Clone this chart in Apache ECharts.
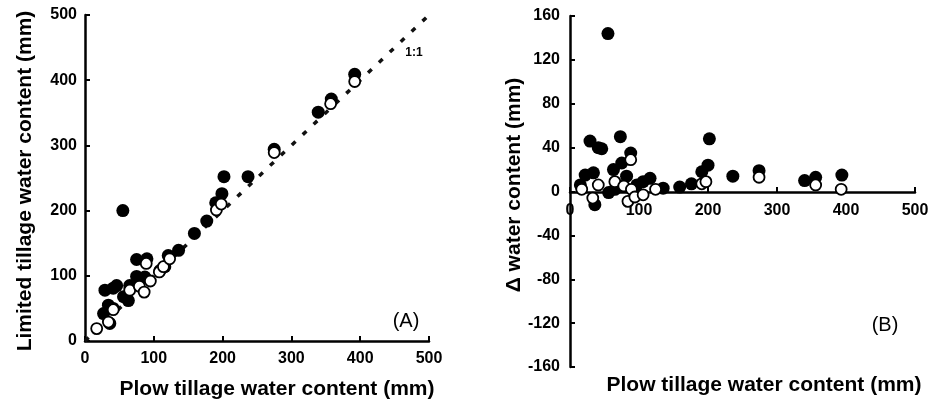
<!DOCTYPE html>
<html><head><meta charset="utf-8">
<script src="https://cdn.jsdelivr.net/npm/echarts@6/dist/echarts.min.js"></script>
<style>html,body{margin:0;padding:0;background:#fff}#c{width:936px;height:403px}</style>
</head><body><div id="c"></div>
<script>
// Panel A: plow tillage (x) vs limited tillage (y)
const aFilled = [[55,200],[202,252],[237,252],[199,226],[190,212],[177,184],[159,165],[136,139],[121,131],[275,294],[339,351],[358,371],[392,409],[75,125],[90,126],[29,78],[41,81],[46,85],[75,99],[65,85],[56,68],[63,62],[41,50],[34,55],[27,42],[36,27],[87,98],[109,108],[116,114]];
const aOpen = [[17,19],[34,29],[41,48],[65,78],[79,84],[86,75],[89,119],[95,92],[108,106],[114,114],[123,126],[191,201],[198,210],[275,289],[357,364],[392,398]];
// Panel B: plow tillage (x) vs delta water content (y)
const bFilled = [[55,144],[29,46],[41,40],[46,39],[73,50],[88,35],[75,26],[63,20],[22,15],[34,17],[15,6],[202,48],[200,24],[191,18],[236,14],[274,19],[340,10],[356,13],[394,15],[159,4],[176,7],[135,3],[116,12],[106,9],[36,-12],[56,-1],[82,14],[65,2],[97,6]];
const bOpen = [[17,2],[33,-6],[41,6],[65,9],[78,5],[88,29],[84,-9],[89,2],[94,-5],[106,-3],[124,2],[191,7],[197,9],[274,13],[356,6],[393,2]];
const oneToOne = [[0,0],[500,500]];
const xRange = [0,500,100];   // min, max, interval for both x axes
const yRangeA = [0,500,100];
const yRangeB = [-160,160,40];

const chart = echarts.init(document.getElementById('c'), null, {renderer:'canvas'});
const font = 'Liberation Sans, Arial, sans-serif';
const line = {show:true,onZero:false,lineStyle:{color:'#000',width:2.5}};
const tick = {show:true,inside:true,length:5,lineStyle:{color:'#000',width:2}};
const lab = (m)=>({show:true,color:'#000',fontWeight:'bold',fontSize:16,fontFamily:font,margin:m});
const ax = (gi,r,m)=>({gridIndex:gi,type:'value',min:r[0],max:r[1],interval:r[2],
  axisLine:line,axisTick:tick,axisLabel:lab(m),splitLine:{show:false}});
const dot = {color:'#000',borderColor:'#000',borderWidth:0,opacity:1};
const ring = {color:'#fff',borderColor:'#000',borderWidth:1.8,opacity:1};
chart.setOption({
  animation:false,
  grid:[
    {left:85,right:507,top:15,bottom:62},
    {left:570,right:21,top:16,bottom:36},
    {left:570,right:21,top:16,bottom:211}
  ],
  xAxis:[
    ax(0,xRange,10),
    Object.assign(ax(1,xRange,10),{show:false}),
    ax(2,xRange,11)
  ],
  yAxis:[
    ax(0,yRangeA,8),
    ax(1,yRangeB,10),
    {gridIndex:2,type:'value',min:0,max:1,show:false}
  ],
  series:[
    {type:'line',xAxisIndex:0,yAxisIndex:0,data:oneToOne,symbol:'none',silent:true,
     lineStyle:{color:'#111',width:3.5,type:[5,10]},z:1},
    {type:'scatter',xAxisIndex:0,yAxisIndex:0,data:aFilled,symbolSize:13,itemStyle:dot,z:2},
    {type:'scatter',xAxisIndex:0,yAxisIndex:0,data:aOpen,symbolSize:11,itemStyle:ring,z:3},
    {type:'scatter',xAxisIndex:1,yAxisIndex:1,data:bFilled,symbolSize:13,itemStyle:dot,z:2},
    {type:'scatter',xAxisIndex:1,yAxisIndex:1,data:bOpen,symbolSize:11,itemStyle:ring,z:3}
  ],
  graphic:[
    {type:'text',x:277,y:389,style:{text:'Plow tillage water content (mm)',font:'bold 21px '+font,fill:'#000',align:'center',verticalAlign:'middle'}},
    {type:'text',x:764,y:385,style:{text:'Plow tillage water content (mm)',font:'bold 21px '+font,fill:'#000',align:'center',verticalAlign:'middle'}},
    {type:'text',x:25,y:181,rotation:Math.PI/2,style:{text:'Limited tillage water content (mm)',font:'bold 21px '+font,fill:'#000',align:'center',verticalAlign:'middle'}},
    {type:'text',x:514,y:185,rotation:Math.PI/2,style:{text:'Δ water content (mm)',font:'bold 21px '+font,fill:'#000',align:'center',verticalAlign:'middle'}},
    {type:'text',x:414,y:53,style:{text:'1:1',font:'bold 12px '+font,fill:'#000',align:'center',verticalAlign:'middle'}},
    {type:'text',x:406,y:321,style:{text:'(A)',font:'20px '+font,fill:'#000',align:'center',verticalAlign:'middle'}},
    {type:'text',x:885,y:325,style:{text:'(B)',font:'20px '+font,fill:'#000',align:'center',verticalAlign:'middle'}}
  ]
});
</script></body></html>
